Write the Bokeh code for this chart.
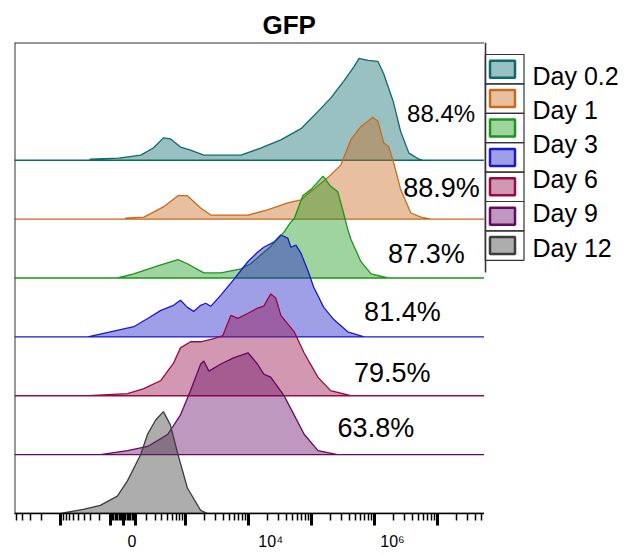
import numpy as np
from bokeh.plotting import figure
from bokeh.models import Range1d, FixedTicker, CustomJSTickFormatter, Span
from bokeh.layouts import row
from bokeh.embed import file_html
from bokeh.resources import INLINE
from bokeh.core.properties import value

# ---------------- data ----------------
# x positions are in display units of the biexponential (asinh) GFP axis (decades),
# heights are % of each histogram's mode
teal_x = [-0.53, -0.52, -0.07, 0.28, 0.48, 0.64, 0.75, 0.91, 1.07, 1.28, 1.87, 2.18, 2.50, 2.82, 3.09,
          3.29, 3.50, 3.66, 3.74, 3.88, 4.04, 4.13, 4.28, 4.40, 4.53, 4.69, 4.75]
teal_h = [0, 1, 2, 5, 12, 22, 21, 13, 10, 5, 5, 12, 20, 31, 48, 61, 78, 92, 100, 98, 97, 85, 58, 28, 7, 1, 0]

orange_x = [0.03, 0.04, 0.33, 0.64, 0.87, 1.02, 1.23, 1.39, 1.98, 2.29, 2.61, 2.82, 3.25, 3.45, 3.61,
            3.77, 3.96, 4.04, 4.13, 4.21, 4.29, 4.40, 4.56, 4.72, 4.88]
orange_h = [0, 1, 2, 12, 23, 23, 11, 4, 4, 9, 16, 19, 41, 53, 78, 91, 100, 96, 75, 71, 55, 29, 6, 2, 0]

green_x = [-0.09, 0.17, 0.55, 0.87, 1.02, 1.28, 1.55, 1.87, 2.02, 2.34, 2.55, 2.66, 2.71, 2.85, 2.98,
           3.17, 3.29, 3.40, 3.48, 3.56, 3.61, 3.77, 3.93, 4.20]
green_h = [0, 4, 12, 18, 14, 5, 5, 9, 14, 31, 45, 55, 58, 81, 87, 100, 90, 85, 67, 48, 38, 16, 4, 0]

blue_x = [-0.56, -0.20, 0.17, 0.39, 0.60, 0.80, 0.91, 1.02, 1.12, 1.23, 1.31, 1.39, 1.55, 1.75, 1.98,
          2.13, 2.23, 2.39, 2.50, 2.61, 2.66, 2.74, 2.82, 2.93, 3.02, 3.18, 3.34, 3.56, 3.82]
blue_h = [0, 5, 10, 18, 26, 31, 36, 29, 25, 31, 33, 30, 41, 56, 74, 83, 88, 93, 100, 97, 88, 90, 82,
          65, 49, 29, 17, 5, 0]

crimson_x = [-0.55, 0.07, 0.33, 0.60, 0.80, 0.91, 1.07, 1.23, 1.44, 1.58, 1.71, 1.82, 1.98, 2.13, 2.23,
             2.34, 2.42, 2.50, 2.71, 2.87, 3.09, 3.29, 3.61]
crimson_h = [0, 2, 7, 15, 32, 47, 53, 53, 56, 59, 79, 76, 81, 86, 88, 100, 96, 79, 63, 42, 18, 5, 0]

purple_x = [-0.36, 0.07, 0.39, 0.71, 0.91, 1.07, 1.23, 1.28, 1.36, 1.55, 1.75, 1.98, 2.13, 2.23, 2.34,
            2.55, 2.71, 2.87, 3.09, 3.40]
purple_h = [0, 4, 8, 20, 39, 63, 89, 92, 82, 89, 95, 100, 89, 79, 76, 58, 39, 20, 4, 0]

gray_x = [-0.99, -0.63, -0.36, -0.09, 0.07, 0.28, 0.39, 0.52, 0.64, 0.75, 0.87, 1.02, 1.23, 1.34]
gray_h = [0, 4, 8, 17, 32, 58, 78, 92, 100, 87, 58, 25, 3, 0]

series_x = [teal_x, orange_x, green_x, blue_x, crimson_x, purple_x, gray_x]
series_h = [teal_h, orange_h, green_h, blue_h, crimson_h, purple_h, gray_h]
series_colors = ["#0e6b6b", "#c86a1c", "#1a961a", "#1a1ac8", "#960a46", "#640a64", "#3c3c3c"]

legend_labels = ["Day 0.2", "Day 1", "Day 3", "Day 6", "Day 9", "Day 12"]

pct_labels = ["88.4%", "88.9%", "87.3%", "81.4%", "79.5%", "63.8%"]
pct_x = [4.50, 4.44, 4.20, 3.82, 3.66, 3.40]
pct_y = [6.79, 5.53, 4.41, 3.43, 2.39, 1.46]
pct_size = ["24px", "27px", "27px", "27px", "27px", "27px"]

# axis (GFP fluorescence) values and tick labels
x_min_val, x_max_val = -5400.0, 5.5e7
major_vals = [-1e3, -1e2, 0, 1e2, 1e3, 1e4, 1e5, 1e6, 1e7]
major_text = ["", "", "0", "", "", "10\u2074", "", "10\u2076", ""]
# labels sit just right of their tick: left padding (in figure spaces) per label
major_pad = [0, 0, 2, 0, 0, 5, 0, 4, 0]

ASINH_W = 206.0


def disp(v):
    return np.arcsinh(np.asarray(v, dtype=float) / ASINH_W) / np.log(10)


minor_vals = []
for s in (-1, 1):
    minor_vals += [s * k * 10 for k in range(1, 10)]
    minor_vals += [s * k * 100 for k in range(2, 10)]
    minor_vals += [s * k * 1000 for k in range(2, 10)]
for e in range(4, 8):
    minor_vals += [k * 10 ** e for k in range(2, 10)]

PEAK = 1.73  # ridge height (in baseline spacings) of a 100 % mode

# ---------------- layout constants ----------------
W_MAIN, W_LEG, H = 484, 140, 554
FRAME_LEFT, FRAME_TOP = 14, 42
FRAME_BOTTOM = 513
FONT = "Liberation Sans"

# ---------------- main plot ----------------
x0 = float(disp(x_min_val))
x1 = float(disp(x_max_val))
n = len(series_x)

p = figure(width=W_MAIN, height=H, x_range=Range1d(x0, x1), y_range=Range1d(0, n + 1),
           toolbar_location=None, output_backend="svg", y_axis_location=None,
           min_border_left=FRAME_LEFT, min_border_right=0, min_border_top=FRAME_TOP,
           min_border_bottom=H - FRAME_BOTTOM,
           outline_line_color=None, background_fill_color="white", border_fill_color="white",
           title="GFP")
p.grid.visible = False
p.title.text_font = FONT
p.title.text_font_size = "26px"
p.title.text_font_style = "bold"
p.title.text_color = "black"
p.title.align = "left"
p.title.offset = 248
p.title.standoff = 6

for i, (xs, hs, c) in enumerate(zip(series_x, series_h, series_colors)):
    base = n - 1 - i
    top = [base + h / 100.0 * PEAK for h in hs]
    px = [x0] + list(xs) + [x1, x1, x0]
    py = [base] + top + [base, base, base]
    p.patch(px, py, fill_color=c, fill_alpha=0.42, line_color=c, line_width=1.3)

for t, tx, ty, sz in zip(pct_labels, pct_x, pct_y, pct_size):
    p.text(x=[tx], y=[ty], text=[t], text_font=value(FONT), text_font_size=value(sz),
           text_align="left", text_baseline="middle", text_color="black")

p.add_layout(Span(location=x0, dimension="height", line_color="#333333", line_width=2))
p.add_layout(Span(location=n + 1, dimension="width", line_color="#333333", line_width=2))

ax = p.xaxis[0]
ax.ticker = FixedTicker(ticks=[float(v) for v in disp(major_vals)],
                        minor_ticks=[float(v) for v in disp(minor_vals)])
ax.formatter = CustomJSTickFormatter(
    args=dict(vals=[float(v) for v in disp(major_vals)],
              labs=["\u2007" * k + t if t else "" for t, k in zip(major_text, major_pad)]),
    code="""
let best = 0, bd = 1e9;
for (let i = 0; i < vals.length; i++) {
  const d = Math.abs(vals[i] - tick);
  if (d < bd) { bd = d; best = i; }
}
return labs[best];
""")
ax.axis_line_color = "black"
ax.axis_line_width = 1.5
ax.major_tick_in = 0
ax.major_tick_out = 12
ax.major_tick_line_width = 3
ax.major_tick_line_color = "black"
ax.minor_tick_in = 0
ax.minor_tick_out = 7
ax.minor_tick_line_width = 1.5
ax.minor_tick_line_color = "black"
ax.major_label_text_font = FONT
ax.major_label_text_font_size = "16px"
ax.major_label_text_color = "black"
ax.major_label_standoff = 7

# ---------------- legend panel ----------------
# its frame is aligned with the main frame by the row layout; ranges in page pixels
leg = figure(width=W_LEG, height=H, x_range=Range1d(W_MAIN, W_MAIN + W_LEG),
             y_range=Range1d(FRAME_BOTTOM, FRAME_TOP),
             toolbar_location=None, output_backend="svg", x_axis_location=None, y_axis_location=None,
             min_border_left=0, min_border_right=0, min_border_top=FRAME_TOP,
             min_border_bottom=H - FRAME_BOTTOM,
             outline_line_color=None, background_fill_color="white", border_fill_color="white")
leg.grid.visible = False

cell_top, cell_h = 54.0, 29.4
cell_x, cell_w = W_MAIN + 20, 39
cy = [cell_top + (i + 0.5) * cell_h for i in range(n)]
leg.segment(x0=[W_MAIN + 0.9], y0=[FRAME_TOP], x1=[W_MAIN + 0.9], y1=[272], line_color="#333333",
            line_width=1.8)
leg.rect(x=[cell_x] * n, y=cy, width=cell_w, height=cell_h, fill_color=None, line_color="#333333",
         line_width=1.2)
leg.rect(x=[W_MAIN + 18] * n, y=cy, width=25, height=17, fill_color=series_colors, fill_alpha=0.42,
         line_color=series_colors, line_width=2.5)
leg.text(x=[W_MAIN + 48] * len(legend_labels), y=[75 + j * 34.4 for j in range(len(legend_labels))],
         text=legend_labels, text_font=value(FONT), text_font_size=value("25px"),
         text_align="left", text_baseline="middle", text_color="black")

layout = row(p, leg)
open("out.html", "w").write(file_html(layout, INLINE))
